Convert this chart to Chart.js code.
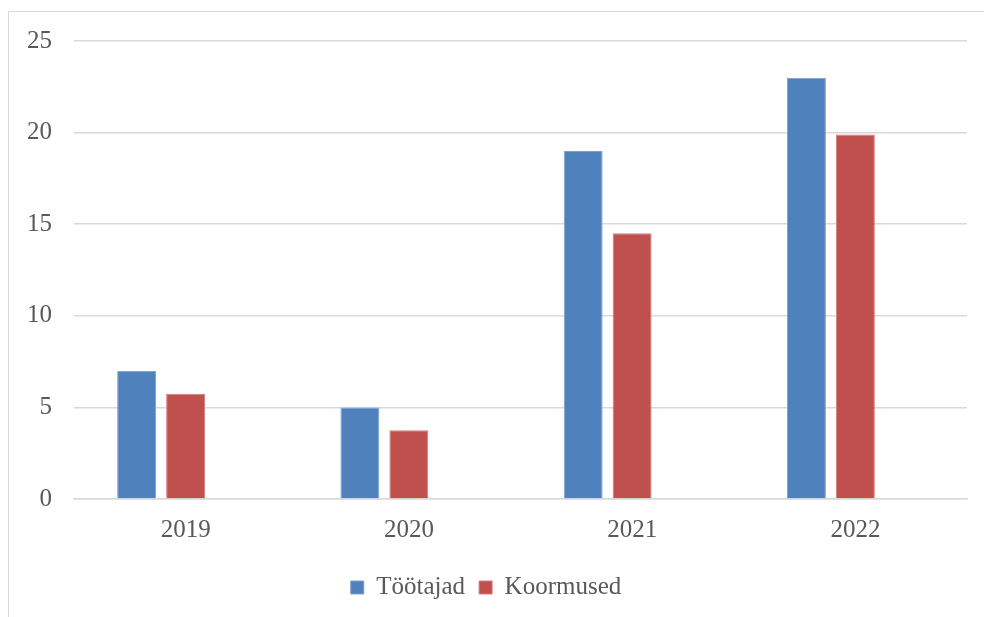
<!DOCTYPE html>
<html>
<head>
<meta charset="utf-8">
<script src="https://cdn.jsdelivr.net/npm/chart.js@4"></script>
<style>
    html, body { margin: 0; padding: 0; background: #fff; overflow: hidden; }
    #wrap { position: relative; width: 984px; height: 617px; }
    #frame { position: absolute; left: 8px; top: 11px; width: 1000px; height: 700px; border: 1px solid #d9d9d9; }
    canvas { position: absolute; left: 0; top: 0; }
</style>
</head>
<body>
<div id="wrap">
    <div id="frame"></div>
    <canvas id="barChart" width="984" height="617"></canvas>
</div>
<script>
const years = ['2019', '2020', '2021', '2022'];
const tootajad = [7, 5, 19, 23];
const koormused = [5.75, 3.75, 14.5, 19.9];
// empty third series in the original file, still takes a slot in each group
const empty = [null, null, null, null];

const serif = '"Liberation Serif", "DejaVu Serif", serif';

const ctx = document.getElementById('barChart').getContext('2d');
new Chart(ctx, {
    type: 'bar',
    data: {
        labels: years,
        datasets: [{
            label: 'Töötajad',
            data: tootajad,
            backgroundColor: '#4f81bd',
            borderColor: '#7a9fd0',
            borderWidth: 1
        }, {
            label: 'Koormused',
            data: koormused,
            backgroundColor: '#c0504d',
            borderColor: '#d27d7a',
            borderWidth: 1
        }, {
            label: '',
            data: empty,
            backgroundColor: '#9bbb59'
        }]
    },
    options: {
        responsive: false,
        animation: false,
        barPercentage: 0.796,
        categoryPercentage: 0.658,
        layout: {
            padding: { top: 41, right: 17, left: 5, bottom: 7 }
        },
        plugins: {
            legend: {
                position: 'bottom',
                labels: {
                    filter: item => item.text !== '',
                    boxWidth: 13,
                    boxHeight: 13,
                    padding: 14,
                    color: '#595959',
                    font: { family: serif, size: 25 }
                }
            },
            tooltip: { enabled: false }
        },
        scales: {
            y: {
                min: 0,
                max: 25,
                ticks: {
                    stepSize: 5,
                    padding: 22,
                    color: '#595959',
                    font: { family: serif, size: 25, lineHeight: '12px' }
                },
                grid: { color: '#d9d9d9', lineWidth: 1.5, drawTicks: false },
                border: { display: false }
            },
            x: {
                ticks: {
                    padding: 23,
                    color: '#595959',
                    font: { family: serif, size: 25, lineHeight: '16px' }
                },
                grid: { display: false, drawTicks: false },
                border: { color: '#d9d9d9', width: 1.5 }
            }
        }
    }
});
</script>
</body>
</html>
